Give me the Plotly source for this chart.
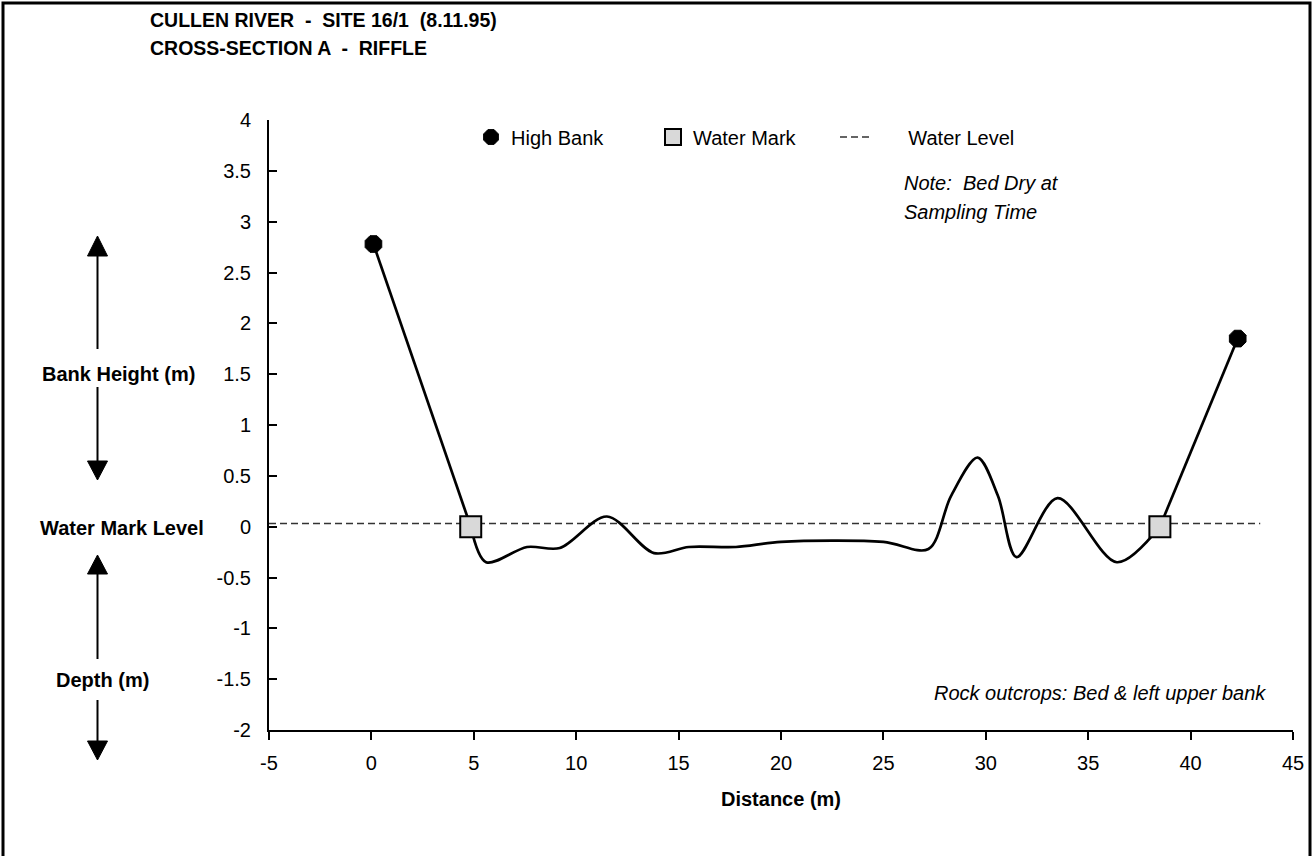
import plotly.graph_objects as go

# Perfil transversal
bank_x = [0.1, 42.3]
bank_y = [2.78, 1.85]

mark_x = [4.85, 38.5]
mark_y = [0.0, 0.0]

bed_x = [5.6, 7.6, 9.2, 11.5, 13.8, 15.5, 17.8, 20.0, 25.0, 27.2, 28.3, 29.6, 30.6, 31.5, 33.5, 36.4]
bed_y = [-0.35, -0.2, -0.21, 0.1, -0.26, -0.2, -0.2, -0.15, -0.15, -0.22, 0.3, 0.68, 0.3, -0.3, 0.28, -0.35]

level_x = [-5, 43.4]
level_y = [0.03, 0.03]

x_ticks = [-5, 0, 5, 10, 15, 20, 25, 30, 35, 40, 45]
x_tick_text = ["-5", "0", "5", "10", "15", "20", "25", "30", "35", "40", "45"]
y_ticks = [-2, -1.5, -1, -0.5, 0, 0.5, 1, 1.5, 2, 2.5, 3, 3.5, 4]
y_tick_text = ["-2", "-1.5", "-1", "-0.5", "0", "0.5", "1", "1.5", "2", "2.5", "3", "3.5", "4"]

W, H = 1313, 856
L, R, T, B = 269, 1293, 120, 730
FONT = "Liberation Sans, Arial, sans-serif"


def px(x):
    return (x - L) / (R - L)


def py(y):
    return (B - y) / (B - T)


def note(text, x, y, xanchor, size=20):
    return dict(text=text, x=px(x), y=py(y), xref="paper", yref="paper",
                xanchor=xanchor, yanchor="middle", showarrow=False,
                font=dict(family=FONT, size=size, color="black"))


def arrow_shapes(x, tip_top, base_top, gap_top, gap_bot, base_bot, tip_bot, half=10):
    shapes = []
    line = dict(color="black", width=2)
    shapes.append(dict(type="line", xref="paper", yref="paper",
                       x0=px(x), x1=px(x), y0=py(base_top), y1=py(gap_top), line=line))
    shapes.append(dict(type="line", xref="paper", yref="paper",
                       x0=px(x), x1=px(x), y0=py(gap_bot), y1=py(base_bot), line=line))
    up = f"M {px(x)},{py(tip_top)} L {px(x - half)},{py(base_top)} L {px(x + half)},{py(base_top)} Z"
    down = f"M {px(x)},{py(tip_bot)} L {px(x - half)},{py(base_bot)} L {px(x + half)},{py(base_bot)} Z"
    for p in (up, down):
        shapes.append(dict(type="path", xref="paper", yref="paper", path=p,
                           fillcolor="black", line=dict(color="black", width=1)))
    return shapes


def main():
    fig = go.Figure()

    fig.add_trace(go.Scatter(
        x=level_x, y=level_y, mode="lines", name="\u00a0\u00a0\u00a0\u00a0\u00a0\u00a0Water Level",
        legendrank=3, line=dict(color="#333333", width=1.5, dash="7px,4px")
    ))

    # margens (trechos retos) e leito (suavizado)
    for i in range(2):
        fig.add_trace(go.Scatter(
            x=[bank_x[i], mark_x[i]], y=[bank_y[i], mark_y[i]], mode="lines", showlegend=False,
            line=dict(color="black", width=2.7)
        ))
    fig.add_trace(go.Scatter(
        x=[mark_x[0]] + bed_x + [mark_x[1]], y=[mark_y[0]] + bed_y + [mark_y[1]],
        mode="lines", showlegend=False,
        line=dict(color="black", width=2.7, shape="spline", smoothing=0.9)
    ))

    fig.add_trace(go.Scatter(
        x=bank_x, y=bank_y, mode="markers", name="High Bank", legendrank=1,
        marker=dict(symbol="octagon", size=18, color="black", line=dict(color="black", width=1))
    ))
    fig.add_trace(go.Scatter(
        x=mark_x, y=mark_y, mode="markers", name="Water Mark", legendrank=2,
        marker=dict(symbol="square", size=21, color="#d9d9d9", line=dict(color="black", width=2))
    ))

    annotations = [
        note("<b>CULLEN RIVER \u00a0-\u00a0 SITE 16/1 \u00a0(8.11.95)</b>", 148, 20, "left", 19.5),
        note("<b>CROSS-SECTION A \u00a0-\u00a0 RIFFLE</b>", 148, 48, "left", 19.5),
        note("<b>Bank Height (m)</b>", 118, 374, "center"),
        note("<b>Water Mark Level</b>", 122, 528, "center"),
        note("<b>Depth (m)</b>", 102, 680, "center"),
        note("<b>Distance (m)</b>", 781, 799, "center"),
        note("<i>Note:\u00a0 Bed Dry at</i>", 902, 183, "left"),
        note("<i>Sampling Time</i>", 902, 212, "left"),
        note("<i>Rock outcrops: Bed &amp; left upper bank</i>", 1268, 693, "right"),
    ]

    shapes = [dict(type="rect", xref="paper", yref="paper", layer="below",
                   x0=px(3), x1=px(1310), y0=py(3), y1=py(870),
                   line=dict(color="black", width=3))]
    shapes += arrow_shapes(97.5, 236, 256, 349, 387, 461, 480)
    shapes += arrow_shapes(97.5, 555, 574, 659, 700, 741, 760)

    fig.update_layout(
        width=W, height=H,
        margin=dict(l=L, r=W - R, t=T, b=H - B, autoexpand=False),
        plot_bgcolor="white", paper_bgcolor="white",
        font=dict(family=FONT, size=20, color="black"),
        showlegend=True,
        legend=dict(orientation="h", x=px(471), y=py(137), xanchor="left", yanchor="middle",
                    entrywidth=137, bgcolor="rgba(0,0,0,0)", font=dict(size=20)),
        annotations=annotations,
        shapes=shapes,
        xaxis=dict(range=[-5, 45], tickvals=x_ticks, ticktext=x_tick_text,
                   showgrid=False, zeroline=False, showline=True, linecolor="black", linewidth=2,
                   ticks="outside", ticklen=8, tickwidth=2, tickcolor="black",
                   ticklabelstandoff=6),
        yaxis=dict(range=[-2, 4], tickvals=y_ticks, ticktext=y_tick_text,
                   showgrid=False, zeroline=False, showline=True, linecolor="black", linewidth=2,
                   ticks="inside", ticklen=8, tickwidth=2, tickcolor="black",
                   ticklabelstandoff=12),
    )

    # tira a margem padrao do body para a figura ficar no canto da pagina
    fig.write_html("out.html", config={"displayModeBar": False},
                   post_script="document.body.style.margin='0';")


if __name__ == "__main__":
    main()
